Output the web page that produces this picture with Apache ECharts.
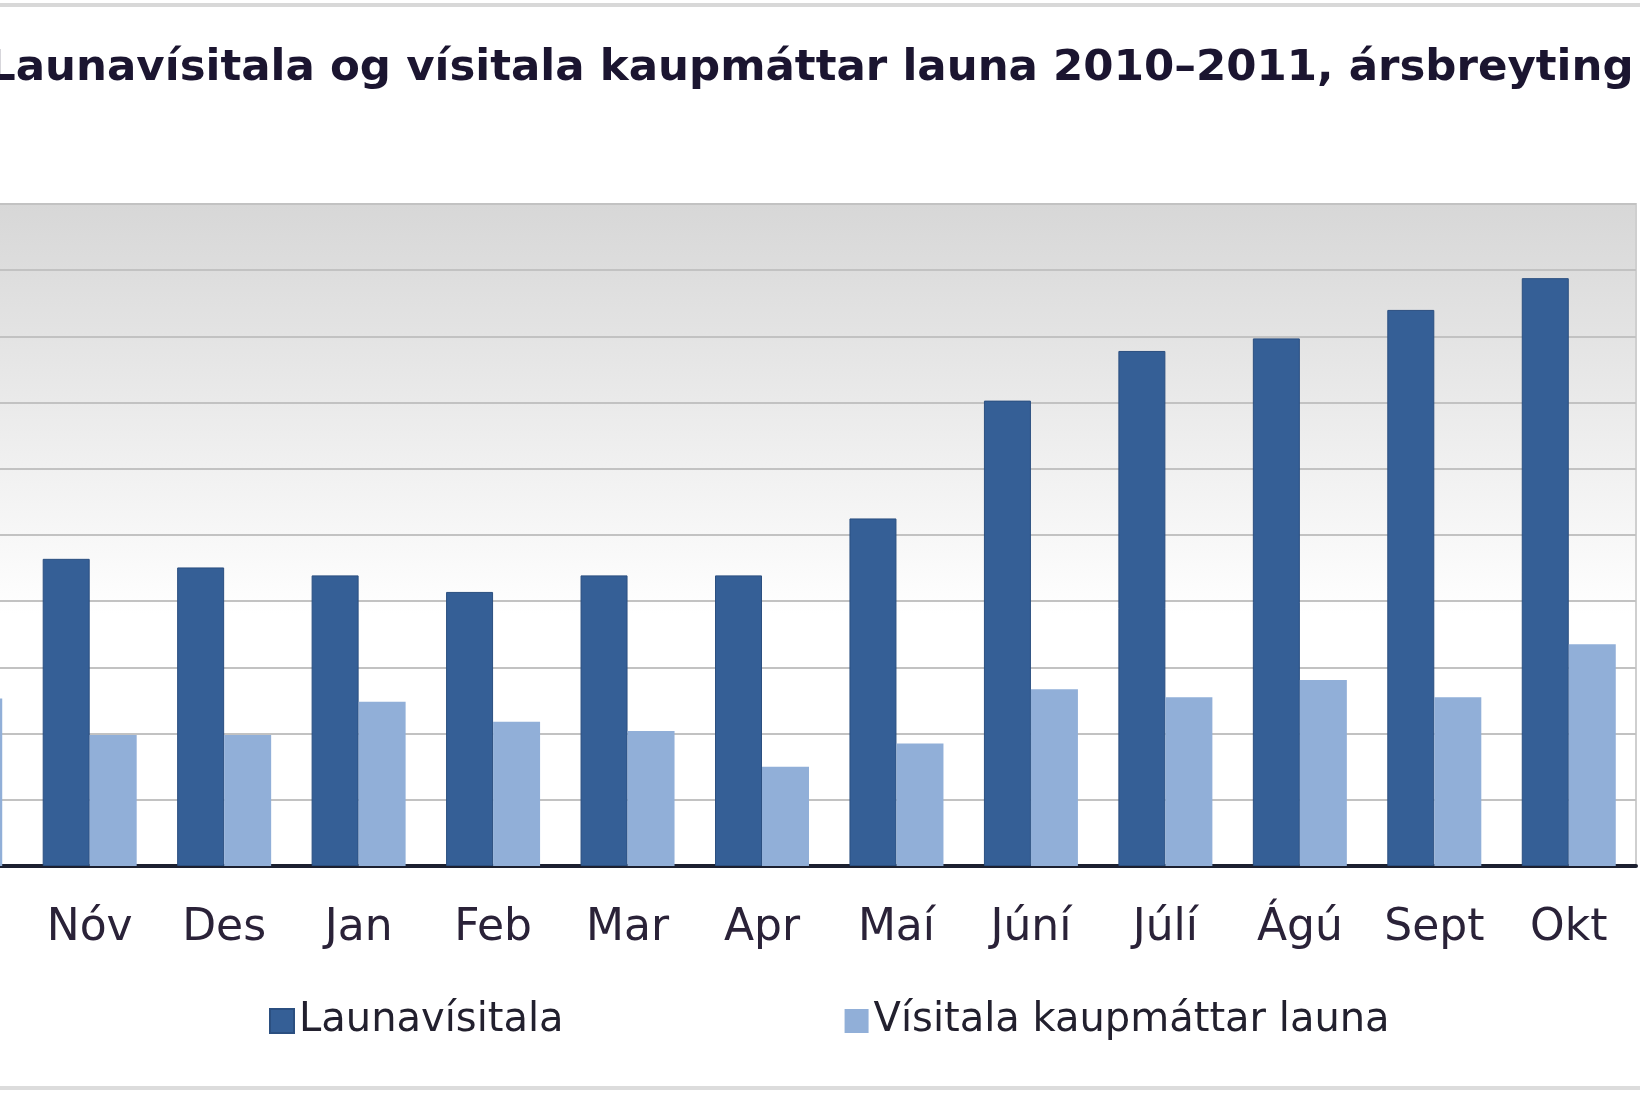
<!DOCTYPE html>
<html>
<head>
<meta charset="utf-8">
<script src="https://cdn.jsdelivr.net/npm/echarts@6/dist/echarts.min.js"></script>
<style>
html,body{margin:0;padding:0;background:#fff;}
#chart{width:1640px;height:1093px;}
</style>
</head>
<body>
<div id="chart"></div>
<script>
// Categories (first one, Okt 2010, is cut off at the left edge of the picture)
const categories = ['Okt', 'Nóv', 'Des', 'Jan', 'Feb', 'Mar', 'Apr', 'Maí', 'Júní', 'Júlí', 'Ágú', 'Sept', 'Okt'];
// Launavísitala, ársbreyting (%) — first value hidden outside the picture
const launavisitala = [null, 4.64, 4.51, 4.39, 4.14, 4.39, 4.39, 5.25, 7.03, 7.78, 7.97, 8.40, 8.88];
// Vísitala kaupmáttar launa, ársbreyting (%)
const kaupmattur = [2.53, 1.98, 1.98, 2.48, 2.18, 2.04, 1.50, 1.85, 2.67, 2.55, 2.81, 2.55, 3.35];
const seriesNames = ['Launavísitala', 'Vísitala kaupmáttar launa'];
const titleText = 'Launavísitala og vísitala kaupmáttar launa 2010–2011, ársbreyting';

const FONT = '"DejaVu Sans", Verdana, sans-serif';
const chart = echarts.init(document.getElementById('chart'));
chart.setOption({
  backgroundColor: '#ffffff',
  animation: false,
  title: {
    text: titleText,
    left: -12,
    top: 43,
    padding: 0,
    textStyle: { fontFamily: FONT, fontSize: 43.5, fontWeight: 'bold', color: '#1b1530', lineHeight: 52 }
  },
  legend: {
    left: 269,
    top: 997,
    padding: 0,
    itemGap: 281,
    itemWidth: 24,
    itemHeight: 24,
    icon: 'rect',
    data: seriesNames,
    textStyle: { fontFamily: FONT, fontSize: 40, color: '#22202e', lineHeight: 48 }
  },
  grid: {
    left: -112,
    right: 4,
    top: 204,
    bottom: 227,
    show: true,
    borderColor: '#cfcfcf',
    borderWidth: 2,
    outerBoundsMode: 'none',
    backgroundColor: new echarts.graphic.LinearGradient(0, 0, 0, 1, [
      { offset: 0, color: '#d7d7d7' },
      { offset: 0.1, color: '#dddddd' },
      { offset: 0.3, color: '#eaeaea' },
      { offset: 0.5, color: '#f7f7f7' },
      { offset: 0.62, color: '#ffffff' },
      { offset: 1, color: '#ffffff' }
    ])
  },
  xAxis: {
    type: 'category',
    data: categories,
    axisLine: { show: true, lineStyle: { color: '#1c2030', width: 4 } },
    axisTick: { show: false },
    axisLabel: {
      interval: 0,
      margin: 37,
      fontFamily: FONT,
      fontSize: 44,
      lineHeight: 52,
      color: '#2a2238'
    },
    splitLine: { show: false }
  },
  yAxis: {
    type: 'value',
    min: 0,
    max: 10,
    interval: 1,
    axisLine: { show: false },
    axisTick: { show: false },
    axisLabel: { show: false },
    splitLine: { show: true, lineStyle: { color: '#c2c2c2', width: 2 } }
  },
  graphic: [
    { type: 'line', shape: { x1: 0, y1: 5, x2: 1640, y2: 5 }, style: { stroke: '#d8d8d8', lineWidth: 4 } },
    { type: 'line', shape: { x1: 0, y1: 1088, x2: 1640, y2: 1088 }, style: { stroke: '#dcdcdc', lineWidth: 4 } }
  ],
  series: [
    {
      name: seriesNames[0],
      type: 'bar',
      data: launavisitala,
      barWidth: 47,
      barGap: '0%',
      itemStyle: { color: '#355f96', borderColor: '#2b4f80', borderWidth: 1 }
    },
    {
      name: seriesNames[1],
      type: 'bar',
      data: kaupmattur,
      barWidth: 47,
      barGap: '0%',
      itemStyle: { color: '#91afd8' }
    }
  ]
});
</script>
</body>
</html>
